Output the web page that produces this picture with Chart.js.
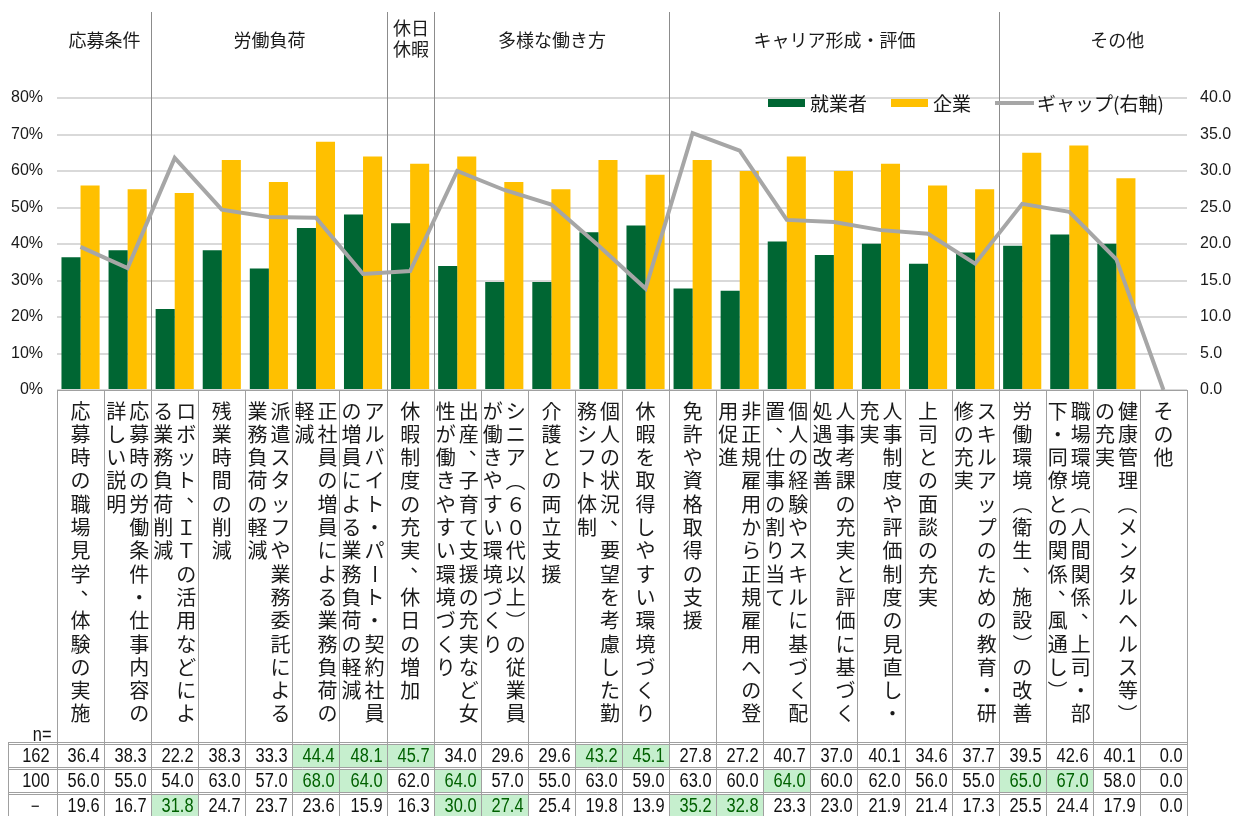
<!DOCTYPE html>
<html lang="ja">
<head>
<meta charset="utf-8">
<title>就業者と企業の比較</title>
<script src="https://cdn.jsdelivr.net/npm/chart.js@4/dist/chart.umd.min.js"></script>
<style>
  html, body { margin: 0; padding: 0; background: #fff; }
</style>
</head>
<body>
<canvas id="chart" width="1238" height="816"></canvas>
<script>
const categories = [
  "応募時の職場見学、体験の実施",
  "応募時の労働条件・仕事内容の詳しい説明",
  "ロボット、ＩＴの活用などによる業務負荷削減",
  "残業時間の削減",
  "派遣スタッフや業務委託による業務負荷の軽減",
  "正社員の増員による業務負荷の軽減",
  "アルバイト・パート・契約社員の増員による業務負荷の軽減",
  "休暇制度の充実、休日の増加",
  "出産、子育て支援の充実など女性が働きやすい環境づくり",
  "シニア（６０代以上）の従業員が働きやすい環境づくり",
  "介護との両立支援",
  "個人の状況、要望を考慮した勤務シフト体制",
  "休暇を取得しやすい環境づくり",
  "免許や資格取得の支援",
  "非正規雇用から正規雇用への登用促進",
  "個人の経験やスキルに基づく配置、仕事の割り当て",
  "人事考課の充実と評価に基づく処遇改善",
  "人事制度や評価制度の見直し・充実",
  "上司との面談の充実",
  "スキルアップのための教育・研修の充実",
  "労働環境（衛生、施設）の改善",
  "職場環境（人間関係、上司・部下・同僚との関係、風通し）",
  "健康管理（メンタルヘルス等）の充実",
  "その他"
];

const workers   = [36.4, 38.3, 22.2, 38.3, 33.3, 44.4, 48.1, 45.7, 34.0, 29.6, 29.6, 43.2, 45.1, 27.8, 27.2, 40.7, 37.0, 40.1, 34.6, 37.7, 39.5, 42.6, 40.1, 0.0];
const companies = [56.0, 55.0, 54.0, 63.0, 57.0, 68.0, 64.0, 62.0, 64.0, 57.0, 55.0, 63.0, 59.0, 63.0, 60.0, 64.0, 60.0, 62.0, 56.0, 55.0, 65.0, 67.0, 58.0, 0.0];
const gap       = [19.6, 16.7, 31.8, 24.7, 23.7, 23.6, 15.9, 16.3, 30.0, 27.4, 25.4, 19.8, 13.9, 35.2, 32.8, 23.3, 23.0, 21.9, 21.4, 17.3, 25.5, 24.4, 17.9, 0.0];
const nValues   = ["162", "100", "－"];

const groups     = ["応募条件", "労働負荷", "休日\n休暇", "多様な働き方", "キャリア形成・評価", "その他"];
const groupSizes = [2, 5, 1, 5, 7, 4];

const seriesNames = ["就業者", "企業", "ギャップ(右軸)"];
const colors = { workers: "#006633", companies: "#FFC000", gap: "#A6A6A6" };

const JP = '"Noto Sans CJK JP", sans-serif';
const NUM = '"Liberation Sans", Arial, sans-serif';
const COL_CHARS = 14;
const LABEL_H = 353;
const ROW_H = 25;

// top 5 (ties included) get the green cell
function topSet(arr) {
  const th = [...arr].sort((a, b) => b - a)[4];
  return arr.map(v => v >= th);
}

function drawVertical(ctx, text, cx, top) {
  const cols = [];
  for (let i = 0; i < text.length; i += COL_CHARS) cols.push(text.slice(i, i + COL_CHARS));
  const step = 23.3, colStep = 23;
  cols.forEach((col, j) => {
    const x = cx + ((cols.length - 1) / 2 - j) * colStep;
    [...col].forEach((ch, k) => {
      const y = top + 21 + k * step;
      if ("ー（）～".includes(ch)) {
        ctx.save();
        ctx.translate(x, y);
        ctx.rotate(Math.PI / 2);
        ctx.fillText(ch, 0, 0);
        ctx.restore();
      } else if ("、。".includes(ch)) {
        ctx.fillText(ch, x + 10, y - 10);
      } else {
        ctx.fillText(ch, x, y);
      }
    });
  });
}

function drawNum(ctx, text, x, y, align, color) {
  ctx.save();
  ctx.translate(x, y);
  ctx.scale(0.82, 1);
  ctx.font = "20px " + NUM;
  ctx.textAlign = align;
  ctx.textBaseline = "middle";
  ctx.fillStyle = color;
  ctx.fillText(text, 0, 0);
  ctx.restore();
}

const tablePlugin = {
  id: "tablePlugin",
  beforeDatasetsDraw(chart) {
    const { ctx, chartArea: area, scales: { x } } = chart;
    const w = x.getPixelForValue(1) - x.getPixelForValue(0);
    const edge = i => Math.round(x.getPixelForValue(i) - w / 2) + 0.5;
    ctx.save();
    ctx.strokeStyle = "#8C8C8C";
    ctx.lineWidth = 1;
    let s = 0;
    groupSizes.forEach(n => {
      if (s > 0) {
        ctx.beginPath();
        ctx.moveTo(edge(s), 12);
        ctx.lineTo(edge(s), area.bottom);
        ctx.stroke();
      }
      s += n;
    });
    ctx.restore();
  },
  afterDraw(chart) {
    const { ctx, chartArea: area, scales: { x } } = chart;
    const w = x.getPixelForValue(1) - x.getPixelForValue(0);
    const edge = i => Math.round(x.getPixelForValue(i) - w / 2) + 0.5;
    const n = categories.length;
    const labelTop = area.bottom;
    const tableTop = labelTop + LABEL_H;
    ctx.save();

    // group headers
    ctx.fillStyle = "#1a1a1a";
    ctx.font = "18px " + JP;
    ctx.textAlign = "center";
    ctx.textBaseline = "middle";
    let s = 0;
    groups.forEach((g, gi) => {
      const e = s + groupSizes[gi];
      const right = gi === groups.length - 1 ? chart.width - 3 : edge(e);
      const cx = (edge(s) + right) / 2;
      const lines = g.split("\n");
      if (lines.length === 1) ctx.fillText(g, cx, 40);
      else lines.forEach((l, li) => ctx.fillText(l, cx, 28 + li * 21));
      s = e;
    });

    // legend
    ctx.font = "19px " + JP;
    ctx.textAlign = "left";
    let lx = 768;
    const ly = 103;
    seriesNames.forEach((name, i) => {
      if (i < 2) {
        ctx.fillStyle = i === 0 ? colors.workers : colors.companies;
        ctx.fillRect(lx, ly - 4, 37, 8);
      } else {
        ctx.strokeStyle = colors.gap;
        ctx.lineWidth = 4;
        ctx.beginPath();
        ctx.moveTo(lx, ly);
        ctx.lineTo(lx + 39, ly);
        ctx.stroke();
      }
      lx += 42;
      ctx.fillStyle = "#1a1a1a";
      ctx.fillText(name, lx, ly + 1);
      lx += ctx.measureText(name).width + 24;
    });

    // vertical category labels
    ctx.font = "20px " + JP;
    ctx.textAlign = "center";
    ctx.fillStyle = "#1a1a1a";
    categories.forEach((c, i) => drawVertical(ctx, c, x.getPixelForValue(i), labelTop));

    // table cells
    const rows = [workers, companies, gap];
    rows.forEach((row, r) => {
      const top = tableTop + r * ROW_H;
      const hi = topSet(row);
      row.forEach((v, i) => {
        if (hi[i]) {
          ctx.fillStyle = "#C6EFCE";
          ctx.fillRect(edge(i) + 0.5, top + 2, edge(i + 1) - edge(i) - 1, ROW_H - 3);
        }
        drawNum(ctx, v.toFixed(1), edge(i + 1) - 5, top + ROW_H / 2 + 1, "right", hi[i] ? "#006100" : "#111");
      });
      if (nValues[r] === "－") drawNum(ctx, nValues[r], (8 + edge(0)) / 2 + 2, top + ROW_H / 2 + 1, "center", "#111");
      else drawNum(ctx, nValues[r], edge(0) - 8, top + ROW_H / 2 + 1, "right", "#111");
    });
    drawNum(ctx, "n=", edge(0) - 6, tableTop - 8, "right", "#111");

    // borders
    ctx.strokeStyle = "#A0A0A0";
    ctx.lineWidth = 1;
    ctx.beginPath();
    ctx.moveTo(edge(0), labelTop + 0.5);
    ctx.lineTo(edge(n), labelTop + 0.5);
    for (let i = 0; i <= n; i++) {
      ctx.moveTo(edge(i), labelTop);
      ctx.lineTo(edge(i), chart.height);
    }
    ctx.moveTo(8.5, tableTop);
    ctx.lineTo(8.5, chart.height);
    for (let r = 0; r < 3; r++) {
      const y = Math.round(tableTop + r * ROW_H);
      ctx.moveTo(8, y - 0.5);
      ctx.lineTo(edge(n), y - 0.5);
      ctx.moveTo(8, y + 1.5);
      ctx.lineTo(edge(n), y + 1.5);
    }
    ctx.stroke();
    ctx.restore();
  }
};

new Chart(document.getElementById("chart"), {
  type: "bar",
  data: {
    labels: categories,
    datasets: [
      {
        type: "line",
        label: seriesNames[2],
        data: gap,
        yAxisID: "y1",
        borderColor: colors.gap,
        borderWidth: 4,
        pointRadius: 0,
        tension: 0,
        order: 0
      },
      { label: seriesNames[0], data: workers, backgroundColor: colors.workers, yAxisID: "y", order: 1 },
      { label: seriesNames[1], data: companies, backgroundColor: colors.companies, yAxisID: "y", order: 1 }
    ]
  },
  options: {
    responsive: false,
    animation: false,
    devicePixelRatio: 1,
    layout: { padding: { top: 98, bottom: 426, left: 0, right: 0 } },
    datasets: { bar: { categoryPercentage: 0.81, barPercentage: 1 } },
    plugins: { legend: { display: false }, tooltip: { enabled: false } },
    scales: {
      x: { display: false, offset: true },
      y: {
        position: "left",
        min: 0,
        max: 80,
        ticks: { stepSize: 10, callback: v => v + "%", color: "#1a1a1a", font: { family: NUM, size: 16 }, padding: 14 },
        grid: { color: "#D9D9D9", lineWidth: 2, drawTicks: false },
        border: { display: false },
        afterFit(s) { s.width = 57; }
      },
      y1: {
        position: "right",
        min: 0,
        max: 40,
        ticks: { stepSize: 5, callback: v => v.toFixed(1), color: "#1a1a1a", font: { family: NUM, size: 16 }, padding: 13 },
        grid: { display: false, drawTicks: false },
        border: { display: false },
        afterFit(s) { s.width = 51; }
      }
    }
  },
  plugins: [tablePlugin]
});
</script>
</body>
</html>
